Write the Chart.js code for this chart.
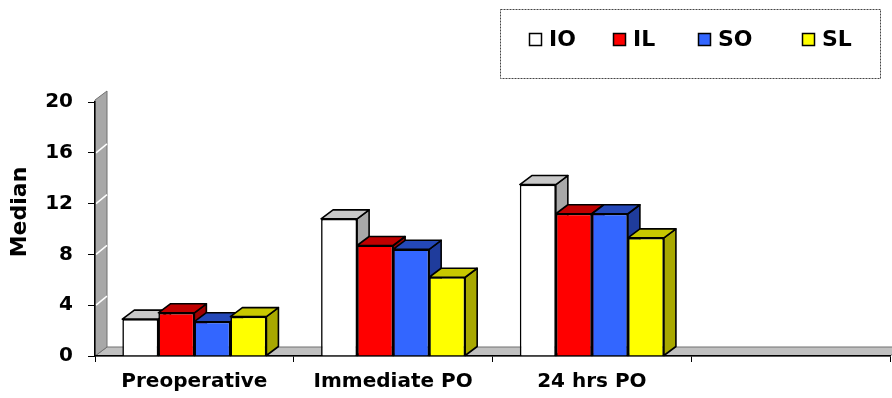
<!DOCTYPE html>
<html>
<head>
<meta charset="utf-8">
<script src="https://cdn.jsdelivr.net/npm/chart.js@4.4.0/dist/chart.umd.min.js"></script>
<style>
  html, body { margin: 0; padding: 0; background: #fff; }
</style>
</head>
<body>
<canvas id="chart" width="892" height="398"></canvas>
<script>
const categories = ["Preoperative", "Immediate PO", "24 hrs PO", ""];
const seriesNames = ["IO", "IL", "SO", "SL"];
const ioValues = [2.9, 10.8, 13.5, null];
const ilValues = [3.4, 8.7, 11.2, null];
const soValues = [2.7, 8.4, 11.2, null];
const slValues = [3.1, 6.2, 9.3, null];
const yTicks = [0, 4, 8, 12, 16, 20];

const FONT = "'DejaVu Sans', sans-serif";
const DX = 12, DY = 9; // 3d depth offset

// front / top / side shades per series
const shades = [
  { front: "#ffffff", top: "#c8c8c8", side: "#a8a8a8" },
  { front: "#ff0000", top: "#c00000", side: "#a00000" },
  { front: "#3366ff", top: "#2448b8", side: "#1f3c9c" },
  { front: "#ffff00", top: "#c8c800", side: "#a8a800" },
];

function poly(ctx, pts, fill) {
  ctx.beginPath();
  ctx.moveTo(pts[0][0], pts[0][1]);
  for (let k = 1; k < pts.length; k++) ctx.lineTo(pts[k][0], pts[k][1]);
  ctx.closePath();
  ctx.fillStyle = fill;
  ctx.fill();
  ctx.stroke();
}

// gray floor and left wall
const wallsPlugin = {
  id: "walls",
  beforeDraw(chart) {
    const { ctx, chartArea: a, scales: { y } } = chart;
    ctx.save();
    ctx.strokeStyle = "#707070";
    ctx.lineWidth = 1;
    poly(ctx, [[a.left, a.bottom], [a.left + DX, a.bottom - DY], [a.right + DX, a.bottom - DY], [a.right, a.bottom]], "#c0c0c0");
    poly(ctx, [[a.left, a.bottom], [a.left, a.top - 2], [a.left + DX, a.top - 2 - DY], [a.left + DX, a.bottom - DY]], "#a8a8a8");
    ctx.strokeStyle = "#ffffff";
    ctx.lineWidth = 1.5;
    yTicks.slice(1, -1).forEach((v) => {
      const py = y.getPixelForValue(v);
      ctx.beginPath();
      ctx.moveTo(a.left + 1, py);
      ctx.lineTo(a.left + DX, py - DY);
      ctx.stroke();
    });
    ctx.restore();
  },
};

// side and top faces, drawn before the library draws the front faces
const bars3dPlugin = {
  id: "bars3d",
  beforeDatasetsDraw(chart) {
    const ctx = chart.ctx;
    ctx.save();
    ctx.lineWidth = 1.6;
    ctx.strokeStyle = "#000";
    ctx.lineJoin = "round";
    categories.forEach((c, j) => {
      chart.data.datasets.forEach((ds, i) => {
        const el = chart.getDatasetMeta(i).data[j];
        if (!el || ds.data[j] == null) return;
        const { x, y, base, width } = el.getProps(["x", "y", "base", "width"], true);
        const l = x - width / 2, r = x + width / 2;
        poly(ctx, [[r, y], [r + DX, y - DY], [r + DX, base - DY], [r, base]], shades[i].side);
        poly(ctx, [[l, y], [l + DX, y - DY], [r + DX, y - DY], [r, y]], shades[i].top);
      });
    });
    ctx.restore();
  },
};

// boxed legend and rotated axis title
const legendPlugin = {
  id: "boxLegend",
  afterDraw(chart) {
    const ctx = chart.ctx;
    ctx.save();
    ctx.setLineDash([2, 1]);
    ctx.strokeStyle = "#444";
    ctx.lineWidth = 1;
    ctx.strokeRect(500.5, 9.5, 380, 69);
    ctx.setLineDash([]);
    const xs = [529, 613, 698, 802];
    ctx.font = "bold 22px " + FONT;
    ctx.textBaseline = "middle";
    chart.data.datasets.forEach((ds, i) => {
      ctx.fillStyle = shades[i].front;
      ctx.fillRect(xs[i], 33, 13, 13);
      ctx.strokeStyle = "#000";
      ctx.lineWidth = 1.5;
      ctx.strokeRect(xs[i] + 0.5, 33.5, 12, 12);
      ctx.fillStyle = "#000";
      ctx.fillText(ds.label, xs[i] + 20, 40);
    });

    ctx.translate(20, 212);
    ctx.rotate(-Math.PI / 2);
    ctx.textAlign = "center";
    ctx.font = "bold 22px " + FONT;
    ctx.fillText("Median", 0, 0);
    ctx.restore();
  },
};

const seriesValues = [ioValues, ilValues, soValues, slValues];

new Chart(document.getElementById("chart"), {
  type: "bar",
  data: {
    labels: categories,
    datasets: seriesNames.map((name, i) => ({
      label: name,
      data: seriesValues[i],
      backgroundColor: shades[i].front,
      borderColor: "#000",
      borderWidth: 1.6,
      categoryPercentage: 0.725,
      barPercentage: 1,
    })),
  },
  options: {
    responsive: false,
    animation: false,
    devicePixelRatio: 1,
    layout: { padding: { top: 102, right: 2, left: 0, bottom: 0 } },
    plugins: {
      legend: { display: false },
      tooltip: { enabled: false },
    },
    scales: {
      x: {
        offset: true,
        grid: { offset: true, drawOnChartArea: false, tickLength: 6, color: "#000" },
        border: { display: true, color: "#000", width: 1.5 },
        ticks: {
          color: "#000",
          font: { family: FONT, size: 20, weight: "bold" },
          padding: 8,
          maxRotation: 0,
          autoSkip: false,
        },
        afterFit(s) { s.height = 42; },
      },
      y: {
        min: 0,
        max: 20,
        ticks: {
          stepSize: 4,
          color: "#000",
          font: { family: FONT, size: 20, weight: "bold" },
          padding: 15,
        },
        grid: { drawOnChartArea: false, tickLength: 7, color: "#000" },
        border: { display: true, color: "#000", width: 1.5 },
        afterFit(s) { s.width = 95; },
      },
    },
  },
  plugins: [wallsPlugin, bars3dPlugin, legendPlugin],
});
</script>
</body>
</html>
